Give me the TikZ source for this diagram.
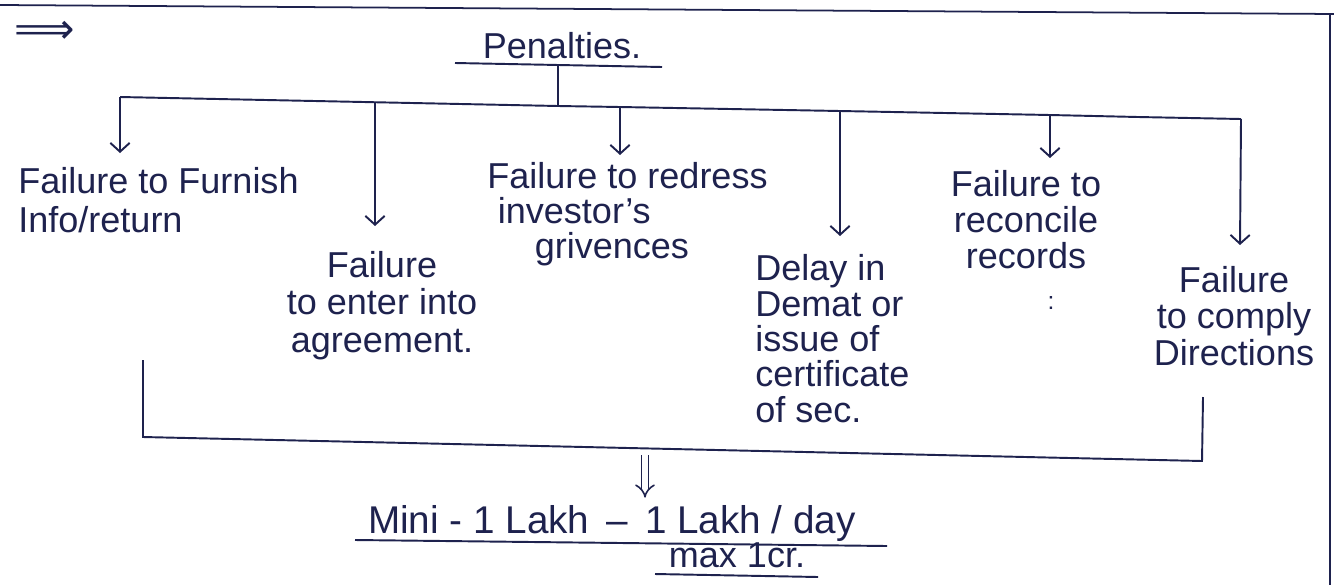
\documentclass[tikz,border=0pt]{standalone}
\usepackage{fontspec}
\setmainfont{Liberation Sans}
\newfontfamily\symfont{DejaVu Sans}
\usetikzlibrary{arrows.meta}
\definecolor{ink}{RGB}{30,34,78}
\begin{document}
\begin{tikzpicture}[x=0.02cm,y=-0.02cm,
  inkline/.style={draw=ink,line width=1.1pt},
  lbl/.style={text=ink,inner sep=0pt},
  arr/.style={inkline,-{Straight Barb[length=5pt,width=11pt,line width=1.1pt]}},
  hw/.style={font=\fontsize{20.5}{#1}\selectfont}]
\useasboundingbox[fill=white] (0,0) rectangle (1334,585);
% page edges
\draw[ink,line width=1pt] (0,5) -- (1334,14);
\draw[ink,line width=1pt] (1330,14) -- (1330,585);
% leading implication sign
\node[lbl,font=\symfont\fontsize{24}{24}\selectfont] (imp) at (45,32) {⟹};
% title
\node[lbl,hw=21pt,anchor=base] (pen) at (562,58) {Penalties.};
\draw[inkline] (455,63) -- (662,67);
% stem and branch line
\coordinate (stemtop) at (558,66);
\coordinate (j) at (558,106);
\coordinate (b1) at (120,97);
\coordinate (b2) at (375,102);
\coordinate (b3) at (620,107);
\coordinate (b4) at (840,111);
\coordinate (b5) at (1050,115);
\coordinate (bk) at (1138,117);
\coordinate (b6) at (1241,119);
\draw[inkline] (stemtop) -- (j);
\draw[inkline] (b1) -- (j) -- (b3) -- (b4) -- (b5) -- (bk) -- (b6);
% arrow ends
\coordinate (e1) at (120,153);
\coordinate (e2) at (375,226);
\coordinate (e3) at (620,155);
\coordinate (e4) at (840,236);
\coordinate (e5) at (1050,158);
\coordinate (e6) at (1240,245);
\draw[arr] (b1) -- (e1);
\draw[arr] (b2) -- (e2);
\draw[arr] (b3) -- (e3);
\draw[arr] (b4) -- (e4);
\draw[arr] (b5) -- (e5);
\draw[arr] (b6) -- (e6);
% labels (anchor base = baseline of last line)
\node[lbl,hw=22pt,align=left,anchor=base west] (t1) at (18,232)
  {Failure to Furnish\\Info/return};
\node[lbl,hw=21.3pt,align=center,anchor=base] (t2) at (382,352)
  {Failure\\to enter into\\agreement.};
\node[lbl,hw=19.8pt,align=left,anchor=base west] (t3) at (487,258)
  {Failure to redress\\\hspace*{6pt}investor's\\\hspace*{27pt}grivences};
\node[lbl,hw=20.1pt,align=left,anchor=base west] (t4) at (755,422)
  {Delay in\\Demat or\\issue of\\certificate\\of sec.};
\node[lbl,hw=20.4pt,align=center,anchor=base] (t5) at (1026,268)
  {Failure to\\reconcile\\records};
\node[lbl,font=\fontsize{14}{14}\selectfont] (dots) at (1051,303) {:};
\node[lbl,hw=20.7pt,align=center,anchor=base] (t6) at (1234,365)
  {Failure\\to comply\\Directions};
% collecting bracket
\coordinate (cl) at (143,360);
\coordinate (cbl) at (143,437);
\coordinate (cbr) at (1202,461);
\coordinate (cr) at (1203,397);
\draw[inkline] (cl) -- (cbl) -- (cbr) -- (cr);
% result
\node[lbl,font=\fontsize{22}{22}\selectfont,anchor=base] (res) at (612,533) {Mini - 1 Lakh \,–\, 1 Lakh / day};
\node[lbl,hw=21pt,anchor=base] (max) at (737,567) {max 1cr.};
\coordinate (dtop) at (645,455);
\draw[ink,line width=0.9pt,double,double distance=3pt,-{Implies},shorten >=4pt] (dtop) -- (res.north -| dtop);
\draw[inkline] (355,540) -- (887,546);
\draw[inkline] (655,574) -- (818,577);
\end{tikzpicture}
\end{document}
